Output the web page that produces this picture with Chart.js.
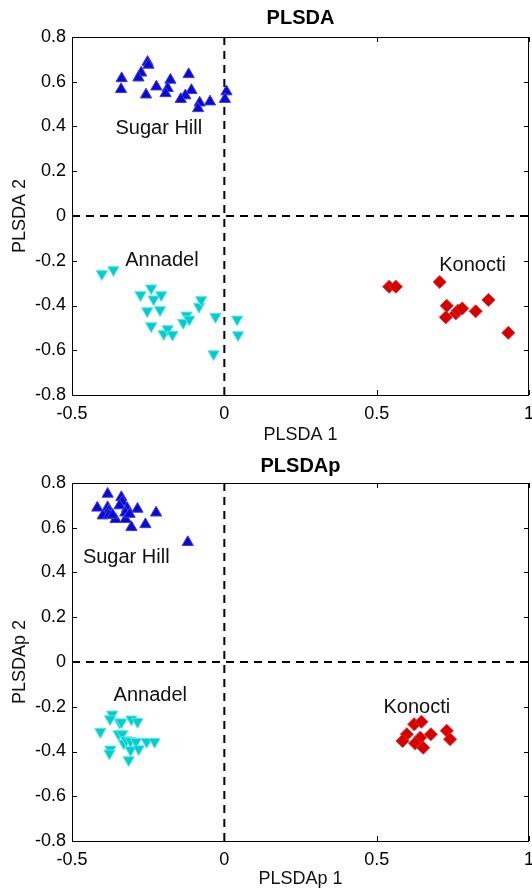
<!DOCTYPE html>
<html>
<head>
<meta charset="utf-8">
<script src="https://cdn.jsdelivr.net/npm/chart.js@4/dist/chart.umd.min.js"></script>
<style>
  body { margin: 0; background: #fff; }
  canvas { display: block; }
</style>
</head>
<body>
<canvas id="chart-top" width="532" height="444"></canvas>
<canvas id="chart-bottom" width="532" height="444"></canvas>
<script>
const ticksX = [-0.5, 0, 0.5, 1];
const ticksY = [-0.8, -0.6, -0.4, -0.2, 0, 0.2, 0.4, 0.6, 0.8];
const groupNames = ['Sugar Hill', 'Annadel', 'Konocti'];

// PLSDA
const sugarHillX1 = [-0.337, -0.339, -0.252, -0.249, -0.273, -0.282, -0.257, -0.223, -0.177, -0.186, -0.193, -0.117, -0.108, -0.128, -0.143, -0.081, -0.086, -0.047, 0.007, 0.002];
const sugarHillY1 = [0.615, 0.566, 0.688, 0.675, 0.640, 0.618, 0.542, 0.578, 0.608, 0.571, 0.548, 0.633, 0.562, 0.538, 0.522, 0.506, 0.481, 0.511, 0.556, 0.522];
const annadelX1 = [-0.402, -0.364, -0.275, -0.240, -0.232, -0.207, -0.253, -0.211, -0.240, -0.199, -0.186, -0.170, -0.135, -0.124, -0.115, -0.083, -0.076, -0.029, -0.035, 0.042, 0.045];
const annadelY1 = [-0.259, -0.241, -0.353, -0.323, -0.372, -0.353, -0.425, -0.420, -0.492, -0.527, -0.505, -0.530, -0.477, -0.444, -0.462, -0.405, -0.375, -0.450, -0.617, -0.462, -0.532];
const konoctiX1 = [0.541, 0.563, 0.707, 0.730, 0.727, 0.760, 0.767, 0.781, 0.825, 0.867, 0.932];
const konoctiY1 = [-0.316, -0.316, -0.295, -0.401, -0.453, -0.435, -0.423, -0.413, -0.426, -0.375, -0.522];
const labelX1 = [-0.215, -0.205, 0.815];
const labelY1 = [0.366, -0.223, -0.246];

// PLSDAp
const sugarHillX2 = [-0.383, -0.417, -0.383, -0.380, -0.338, -0.335, -0.344, -0.319, -0.325, -0.285, -0.224, -0.399, -0.379, -0.357, -0.324, -0.311, -0.305, -0.259, -0.120, -0.367];
const sugarHillY2 = [0.751, 0.689, 0.691, 0.675, 0.736, 0.716, 0.699, 0.687, 0.667, 0.684, 0.667, 0.654, 0.657, 0.638, 0.638, 0.661, 0.602, 0.615, 0.535, 0.657];
const annadelX2 = [-0.368, -0.375, -0.344, -0.338, -0.305, -0.285, -0.407, -0.347, -0.335, -0.330, -0.322, -0.308, -0.290, -0.255, -0.229, -0.374, -0.377, -0.308, -0.281, -0.314];
const annadelY2 = [-0.234, -0.255, -0.269, -0.269, -0.256, -0.267, -0.312, -0.322, -0.322, -0.363, -0.349, -0.353, -0.356, -0.356, -0.356, -0.390, -0.408, -0.393, -0.389, -0.438];
const konoctiX2 = [0.623, 0.647, 0.599, 0.585, 0.643, 0.626, 0.653, 0.678, 0.730, 0.741];
const konoctiY2 = [-0.278, -0.267, -0.323, -0.353, -0.338, -0.363, -0.383, -0.323, -0.307, -0.345];
const labelX2 = [-0.322, -0.243, 0.632];
const labelY2 = [0.442, -0.173, -0.229];

const FONT = "'Liberation Sans', Arial, Helvetica, sans-serif";

function toPoints(xs, ys) {
    return xs.map((x, i) => ({ x: x, y: ys[i] }));
}

// box, inward ticks and group names
const framePlugin = {
    id: 'frame',
    afterDatasetsDraw(chart, args, opts) {
        const ctx = chart.ctx;
        const a = chart.chartArea;
        const xs = chart.scales.x, ys = chart.scales.y;
        ctx.save();
        ctx.strokeStyle = '#000';
        ctx.lineWidth = 1;
        ctx.beginPath();
        ticksX.forEach(v => {
            const px = Math.round(xs.getPixelForValue(v)) + 0.5;
            ctx.moveTo(px, a.bottom); ctx.lineTo(px, a.bottom - 5);
            ctx.moveTo(px, a.top); ctx.lineTo(px, a.top + 5);
        });
        ticksY.forEach(v => {
            const py = Math.round(ys.getPixelForValue(v)) + 0.5;
            ctx.moveTo(a.left, py); ctx.lineTo(a.left + 5, py);
            ctx.moveTo(a.right, py); ctx.lineTo(a.right - 5, py);
        });
        ctx.stroke();
        ctx.strokeRect(Math.round(a.left) + 0.5, Math.round(a.top) + 0.5, Math.round(a.right - a.left) - 1, Math.round(a.bottom - a.top));

        ctx.fillStyle = '#111';
        ctx.font = '20px ' + FONT;
        ctx.textAlign = 'center';
        ctx.textBaseline = 'alphabetic';
        groupNames.forEach((name, i) => {
            ctx.fillText(name, xs.getPixelForValue(opts.lx[i]), ys.getPixelForValue(opts.ly[i]));
        });
        ctx.restore();
    }
};

function CreateChart(id, cfg) {
    const ctx = document.getElementById(id).getContext('2d');
    const data = {
        datasets: [{
            data: toPoints(cfg.shX, cfg.shY),
            pointStyle: 'triangle',
            pointRadius: 6.5,
            backgroundColor: 'rgb(10, 10, 205)',
            borderColor: 'rgb(60, 60, 235)',
            borderWidth: 1,
            order: 1
        },
        {
            data: toPoints(cfg.anX, cfg.anY),
            pointStyle: 'triangle',
            rotation: 180,
            pointRadius: 6.5,
            backgroundColor: 'rgb(0, 205, 205)',
            borderColor: 'rgb(90, 230, 230)',
            borderWidth: 1,
            order: 1
        },
        {
            data: toPoints(cfg.koX, cfg.koY),
            pointStyle: 'rectRot',
            pointRadius: 6.5,
            backgroundColor: 'rgb(215, 0, 0)',
            borderColor: 'rgb(235, 40, 40)',
            borderWidth: 1,
            order: 1
        },
        {
            type: 'line',
            data: [{ x: 0, y: -0.8 }, { x: 0, y: 0.8 }],
            borderColor: '#000',
            borderWidth: 2,
            borderDash: [8, 6],
            pointRadius: 0,
            order: 5
        },
        {
            type: 'line',
            data: [{ x: -0.5, y: 0 }, { x: 1, y: 0 }],
            borderColor: '#000',
            borderWidth: 2,
            borderDash: [8, 6],
            pointRadius: 0,
            order: 5
        }]
    };

    const tickFont = { family: FONT, size: 18 };
    const config = {
        type: 'scatter',
        data: data,
        options: {
            responsive: false,
            animation: false,
            layout: { autoPadding: false, padding: { left: 0, right: 3, top: 0, bottom: 0 } },
            plugins: {
                legend: { display: false },
                tooltip: { enabled: false },
                title: {
                    display: true,
                    text: cfg.title,
                    fullSize: false,
                    color: '#000',
                    font: { family: FONT, size: 20, weight: 'bold', lineHeight: 1.2 },
                    padding: cfg.titlePad
                },
                frame: { lx: cfg.lx, ly: cfg.ly }
            },
            scales: {
                x: {
                    type: 'linear',
                    min: -0.5,
                    max: 1,
                    grid: { display: false, drawTicks: false },
                    border: { display: false },
                    afterBuildTicks: s => { s.ticks = ticksX.map(v => ({ value: v })); },
                    afterFit: s => { s.height = cfg.xHeight; s.paddingLeft = 0; s.paddingRight = 0; },
                    ticks: { color: '#000', font: tickFont, padding: 8, maxRotation: 0, autoSkip: false, callback: v => String(v) },
                    title: { display: true, text: cfg.xTitle, color: '#111', font: { family: FONT, size: 18, lineHeight: 1 }, padding: { top: 0, bottom: 0 } }
                },
                y: {
                    type: 'linear',
                    min: -0.8,
                    max: 0.8,
                    grid: { display: false, drawTicks: false },
                    border: { display: false },
                    afterBuildTicks: s => { s.ticks = ticksY.map(v => ({ value: v })); },
                    afterFit: s => { s.width = 72; s.paddingTop = 0; s.paddingBottom = 0; },
                    ticks: { color: '#000', font: tickFont, padding: 6, autoSkip: false, callback: v => String(v) },
                    title: { display: true, text: cfg.yTitle, color: '#111', font: { family: FONT, size: 18, lineHeight: 1 }, padding: { top: 11, bottom: 0 } }
                }
            }
        },
        plugins: [framePlugin]
    };
    return new Chart(ctx, config);
}

window.chartTop = CreateChart('chart-top', {
    title: 'PLSDA', xTitle: 'PLSDA 1', yTitle: 'PLSDA 2',
    shX: sugarHillX1, shY: sugarHillY1, anX: annadelX1, anY: annadelY1, koX: konoctiX1, koY: konoctiY1,
    lx: labelX1, ly: labelY1,
    titlePad: { top: 6, bottom: 7 }, xHeight: 49
});
window.chartBottom = CreateChart('chart-bottom', {
    title: 'PLSDAp', xTitle: 'PLSDAp 1', yTitle: 'PLSDAp 2',
    shX: sugarHillX2, shY: sugarHillY2, anX: annadelX2, anY: annadelY2, koX: konoctiX2, koY: konoctiY2,
    lx: labelX2, ly: labelY2,
    titlePad: { top: 10, bottom: 5 }, xHeight: 47
});
</script>
</body>
</html>
